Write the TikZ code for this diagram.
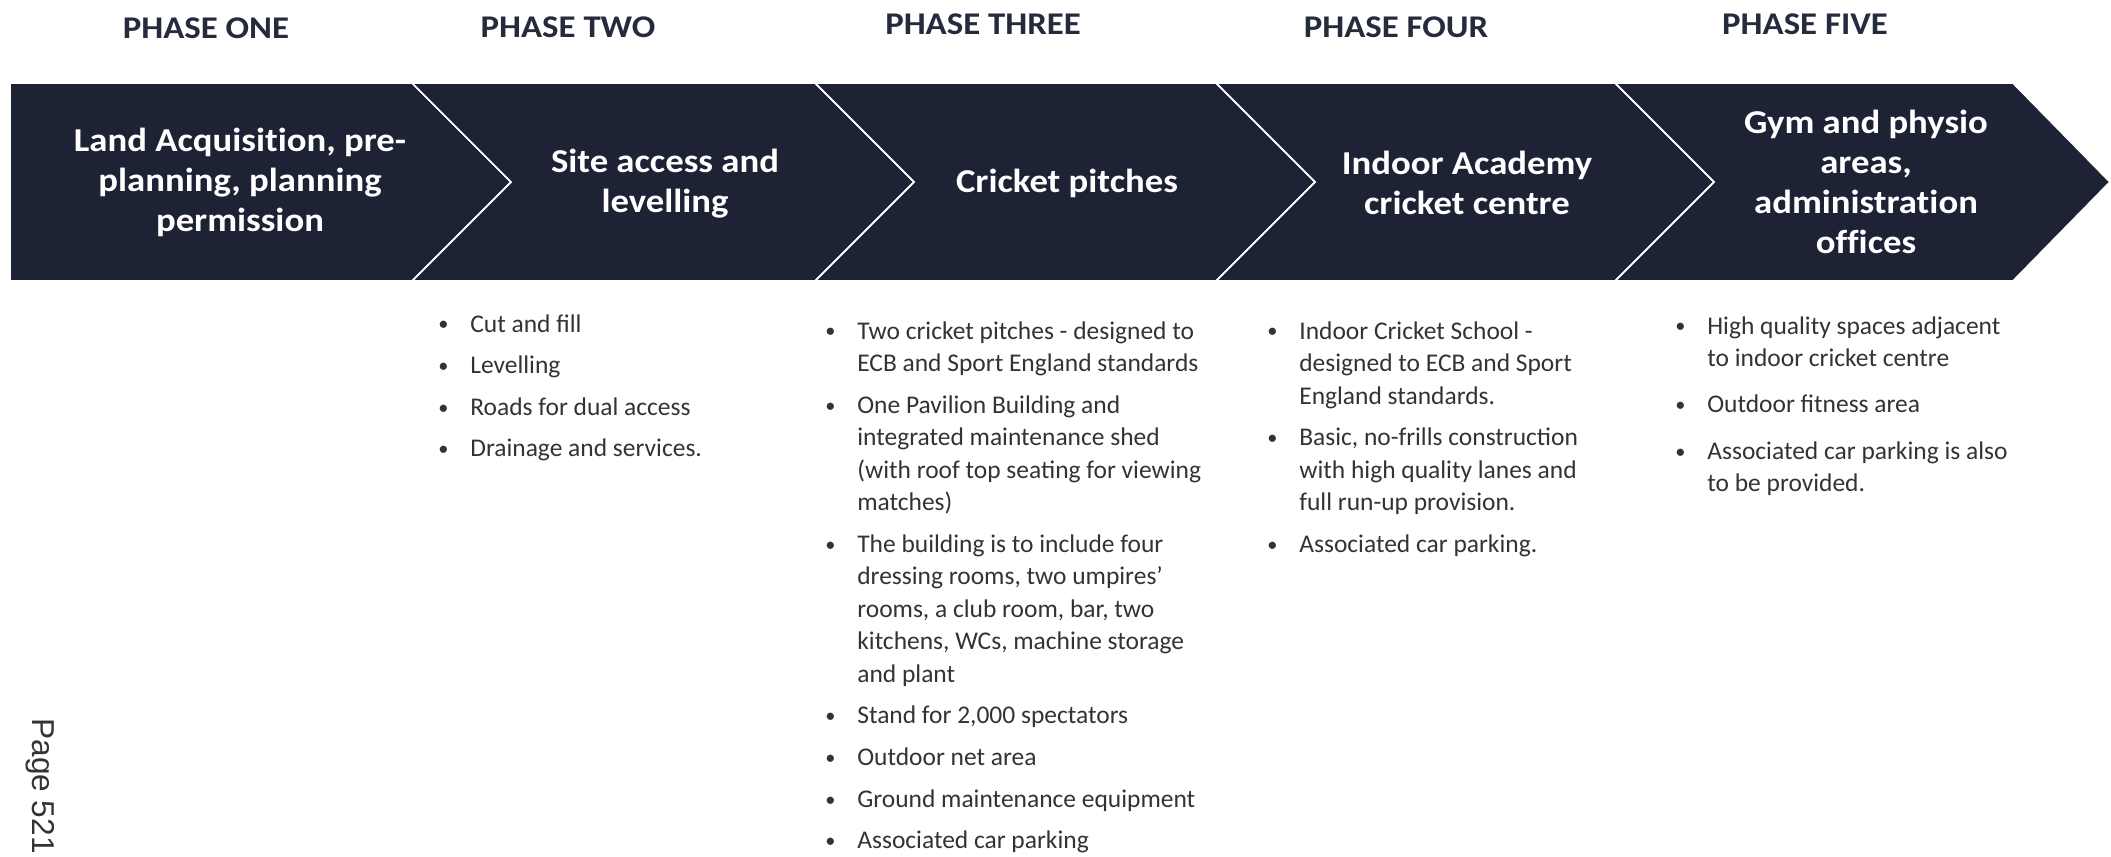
\documentclass[tikz,border=0pt]{standalone}
\usepackage{graphicx}
\usepackage{fontspec}
\setmainfont{Carlito}
\newfontfamily\headfont{Carlito}[FakeStretch=1.1,Ligatures=NoCommon]
\newfontfamily\pagefont{Liberation Sans}

\definecolor{barnavy}{HTML}{1D2235}
\definecolor{headtxt}{HTML}{262A3D}
\definecolor{listtxt}{HTML}{333333}

\newcommand{\blt}{\raisebox{0.6pt}{\scalebox{0.8}{\textbullet}}}

\tikzset{
  chev/.style={fill=barnavy,draw=white,line width=1pt,line join=miter},
  phase/.style={text=headtxt,inner sep=0pt,font=\headfont\bfseries\fontsize{18}{22}\selectfont},
  stage/.style={text=white,align=center,inner sep=0pt,font=\headfont\bfseries\fontsize{19}{22.8}\selectfont},
  bullets/.style={text=listtxt,anchor=base west,inner sep=0pt,font=\fontsize{14.5}{18.5}\selectfont}
}

\begin{document}
\begin{tikzpicture}[x=0.02cm,y=-0.02cm]
\useasboundingbox (0,0) rectangle (2111,856);

\coordinate (tA) at (10,83);
\coordinate (tB) at (412,83);
\coordinate (tC) at (815,83);
\coordinate (tD) at (1216,83);
\coordinate (tE) at (1615,83);
\coordinate (tF) at (2013,83);

\coordinate (bA) at (10,281);
\coordinate (bB) at (412,281);
\coordinate (bC) at (815,281);
\coordinate (bD) at (1216,281);
\coordinate (bE) at (1615,281);
\coordinate (bF) at (2013,281);

\coordinate (mB) at (511,182);
\coordinate (mC) at (914,182);
\coordinate (mD) at (1315,182);
\coordinate (mE) at (1714,182);
\coordinate (mF) at (2110,182);

\draw[chev] (tA) -- (tB) -- (mB) -- (bB) -- (bA) -- cycle;
\draw[chev] (tB) -- (tC) -- (mC) -- (bC) -- (bB) -- (mB) -- cycle;
\draw[chev] (tC) -- (tD) -- (mD) -- (bD) -- (bC) -- (mC) -- cycle;
\draw[chev] (tD) -- (tE) -- (mE) -- (bE) -- (bD) -- (mD) -- cycle;
\draw[chev] (tE) -- (tF) -- (mF) -- (bF) -- (bE) -- (mE) -- cycle;

  \node[phase] (ph1) at (206,28) {PHASE ONE};
  \node[phase] (ph2) at (568,27) {PHASE TWO};
  \node[phase] (ph3) at (983,24) {PHASE THREE};
  \node[phase] (ph4) at (1396,27) {PHASE FOUR};
  \node[phase] (ph5) at (1805,24) {PHASE FIVE};

\node[stage] (st1) at (240,182) {Land Acquisition, pre-\\planning, planning\\permission};
\node[stage] (st2) at (665,184) {Site access and\\levelling};
\node[stage] (st3) at (1067,183) {Cricket pitches};
\node[stage] (st4) at (1467,183) {Indoor Academy\\cricket centre};
\node[stage] (st5) at (1866,182) {Gym and physio\\areas,\\administration\\offices};

\node[bullets] (li2) at (438,332) {\begin{tabular}[t]{@{}p{18.2pt}@{}l@{}}
\blt & Cut and fill\\[5.2pt]
\blt & Levelling\\[5.2pt]
\blt & Roads for dual access\\[5.2pt]
\blt & Drainage and services.
\end{tabular}};

\node[bullets] (li3) at (825,339) {\begin{tabular}[t]{@{}p{18.2pt}@{}l@{}}
\blt & Two cricket pitches - designed to\\
 & ECB and Sport England standards\\[5.2pt]
\blt & One Pavilion Building and\\
 & integrated maintenance shed\\
 & (with roof top seating for viewing\\
 & matches)\\[5.2pt]
\blt & The building is to include four\\
 & dressing rooms, two umpires’\\
 & rooms, a club room, bar, two\\
 & kitchens, WCs, machine storage\\
 & and plant\\[5.2pt]
\blt & Stand for 2,000 spectators\\[5.2pt]
\blt & Outdoor net area\\[5.2pt]
\blt & Ground maintenance equipment\\[5.2pt]
\blt & Associated car parking
\end{tabular}};

\node[bullets] (li4) at (1267,339) {\begin{tabular}[t]{@{}p{18.2pt}@{}l@{}}
\blt & Indoor Cricket School -\\
 & designed to ECB and Sport\\
 & England standards.\\[5.2pt]
\blt & Basic, no-frills construction\\
 & with high quality lanes and\\
 & full run-up provision.\\[5.2pt]
\blt & Associated car parking.
\end{tabular}};

\node[bullets] (li5) at (1675,334) {\begin{tabular}[t]{@{}p{18.2pt}@{}l@{}}
\blt & High quality spaces adjacent\\
 & to indoor cricket centre\\[7.9pt]
\blt & Outdoor fitness area\\[7.9pt]
\blt & Associated car parking is also\\
 & to be provided.
\end{tabular}};

\node[rotate=-90,anchor=base west,inner sep=0pt,text=listtxt,font=\pagefont\fontsize{18}{20}\selectfont] (pg) at (32,718) {Page 521};

\end{tikzpicture}
\end{document}
